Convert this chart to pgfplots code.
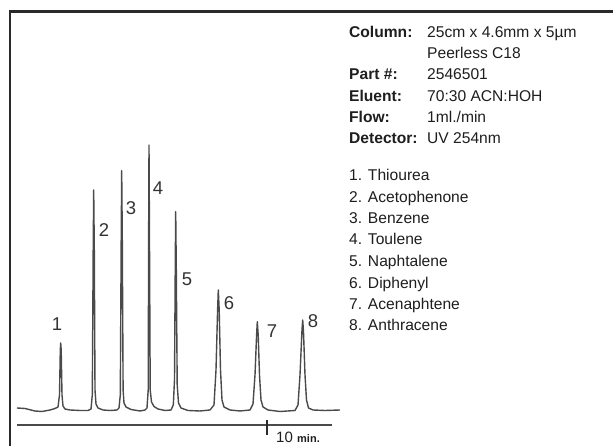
\documentclass[border=0pt]{standalone}
\usepackage{pgfplots}
\pgfplotsset{compat=1.18}
\usepackage{fontspec}
\setmainfont{Liberation Sans}
\definecolor{trace}{HTML}{4A4A4A}
\definecolor{frame}{HTML}{2A2A2A}
\definecolor{lbl}{HTML}{333333}
\definecolor{txt}{HTML}{1E1E1E}
\begin{document}
\begin{tikzpicture}[x=1pt,y=1pt]
\path[use as bounding box,fill=white] (0,0) rectangle (613,446);
\begin{axis}[
  at={(0,0)}, anchor=origin,
  width=613pt, height=446pt, scale only axis,
  xmin=0, xmax=613, ymin=0, ymax=446,
  hide axis, clip=false,
]
% chromatogram trace (x: position along time axis, y: response)
\addplot[trace, line width=1.4pt, line join=round] coordinates {
(17,38)(25,37.5)(35,35)(42,34.5)(50,36)(55,37.5)(58,39)(59.5,51)(60.3,96)(60.7,103)(61.2,96)(62,51)(63,40)(65,37)(70,36)(80,35.5)(88,35.5)
(91,37)(92.3,51)(93.2,196)(93.7,256)(94.3,196)(95,56)(96,42)(98,38)(103,36)(110,35.5)(117,36)
(119,38)(120.3,51)(121.2,206)(121.7,275.3)(122.3,206)(123.1,56)(124,43)(126,39)(131,36.5)(140,35)(145,36)
(147,38)(148.2,56)(148.7,226)(149,301)(149.4,226)(150.2,56)(151.5,44)(154,39.5)(158,37)(165,35.5)(171,36)
(173.3,41)(174.5,66)(175.3,186)(175.7,234.3)(176.3,176)(177.2,61)(178.5,43)(181,38)(188,35.5)(200,35)(210,36)
(214,41)(216,76)(217.6,136)(218.3,156)(219.2,136)(220.5,76)(222,46)(224,39)(230,36)(240,35)(250,36)
(253,42)(255,71)(256.6,111)(257.3,124.3)(258.2,111)(259.5,71)(261,46)(263,39)(268,36)(280,34.5)(295,35.5)
(298,41)(300,71)(302,116)(302.7,126)(303.5,114)(305,71)(306.5,46)(308.5,38)(313,36)(325,35.5)(340,36)
};
% time axis
\addplot[trace, line width=2pt] coordinates {(17,21)(332,21)};
\addplot[frame, line width=2pt] coordinates {(266.7,26)(266.7,11)};
\node[anchor=base west, inner sep=0, txt, font=\fontsize{15}{17}\selectfont] at (axis cs:276,3) {10};
\node[anchor=base west, inner sep=0, txt, font=\fontsize{11}{13}\selectfont\bfseries] at (axis cs:297,3) {min.};
% peak labels
\begin{scope}[every node/.style={lbl, inner sep=0, font=\fontsize{18.5}{20}\selectfont}]
\node at (axis cs:57,122) {1};
\node at (axis cs:104,216) {2};
\node at (axis cs:131,238) {3};
\node at (axis cs:158,258) {4};
\node at (axis cs:187,167) {5};
\node at (axis cs:229,143) {6};
\node at (axis cs:272,115) {7};
\node at (axis cs:313,125) {8};
\end{scope}
% info panel
\begin{scope}[every node/.style={txt, inner sep=0, anchor=base west, font=\fontsize{15.6}{18}\selectfont}]
\node[font=\fontsize{15.6}{18}\selectfont\bfseries] at (axis cs:349,408.7) {Column:};
\node at (axis cs:427,408.7) {25cm x 4.6mm x 5µm};
\node at (axis cs:427,387.7) {Peerless C18};
\node[font=\fontsize{15.6}{18}\selectfont\bfseries] at (axis cs:349,366) {Part \#:};
\node at (axis cs:427,366) {2546501};
\node[font=\fontsize{15.6}{18}\selectfont\bfseries] at (axis cs:349,344.3) {Eluent:};
\node at (axis cs:427,344.3) {70:30 ACN:HOH};
\node[font=\fontsize{15.6}{18}\selectfont\bfseries] at (axis cs:349,323.3) {Flow:};
\node at (axis cs:427,323.3) {1ml./min};
\node[font=\fontsize{15.6}{18}\selectfont\bfseries] at (axis cs:349,302.7) {Detector:};
\node at (axis cs:427,302.7) {UV 254nm};
\node at (axis cs:349,265) {1. Thiourea};
\node at (axis cs:349,243.7) {2. Acetophenone};
\node at (axis cs:349,222.7) {3. Benzene};
\node at (axis cs:349,201) {4. Toulene};
\node at (axis cs:349,179.3) {5. Naphtalene};
\node at (axis cs:349,157.7) {6. Diphenyl};
\node at (axis cs:349,136.5) {7. Acenaphtene};
\node at (axis cs:349,115) {8. Anthracene};
\end{scope}
% frame lines
\addplot[frame, line width=2.5pt] coordinates {(10,0)(10,434.3)(613,434.3)};
\end{axis}
\end{tikzpicture}
\end{document}
